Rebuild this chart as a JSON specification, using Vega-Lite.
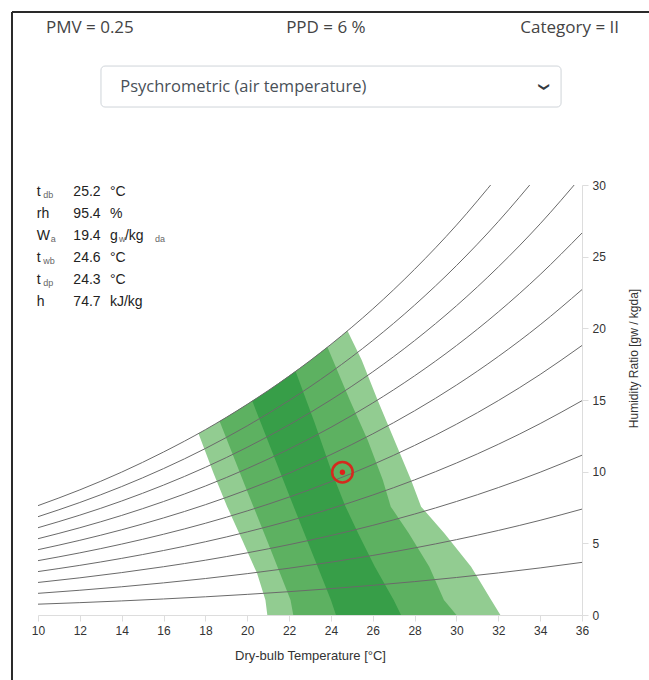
{
  "$schema": "https://vega.github.io/schema/vega-lite/v6.json",
  "width": 544,
  "height": 430,
  "autosize": {"type": "none"},
  "padding": {"left": 38, "top": 185, "right": 67, "bottom": 65},
  "background": "white",
  "config": {"view": {"stroke": null}, "font": "Liberation Sans"},
  "datasets": {
    "zone": [
      {"zone": "III", "i": 0, "T": 20.96, "W": 0},
      {"zone": "III", "i": 1, "T": 20.87, "W": 1.05},
      {"zone": "III", "i": 2, "T": 20.47, "W": 2.91},
      {"zone": "III", "i": 3, "T": 19.76, "W": 5.23},
      {"zone": "III", "i": 4, "T": 19.04, "W": 7.56},
      {"zone": "III", "i": 5, "T": 18.39, "W": 9.89},
      {"zone": "III", "i": 6, "T": 17.67, "W": 12.67},
      {"zone": "III", "i": 7, "T": 18, "W": 12.93},
      {"zone": "III", "i": 8, "T": 19, "W": 13.79},
      {"zone": "III", "i": 9, "T": 20, "W": 14.7},
      {"zone": "III", "i": 10, "T": 21, "W": 15.65},
      {"zone": "III", "i": 11, "T": 22, "W": 16.67},
      {"zone": "III", "i": 12, "T": 23, "W": 17.74},
      {"zone": "III", "i": 13, "T": 24, "W": 18.88},
      {"zone": "III", "i": 14, "T": 24.79, "W": 19.83},
      {"zone": "III", "i": 15, "T": 25.47, "W": 17.79},
      {"zone": "III", "i": 16, "T": 26.23, "W": 15.0},
      {"zone": "III", "i": 17, "T": 27.03, "W": 12.21},
      {"zone": "III", "i": 18, "T": 27.83, "W": 9.42},
      {"zone": "III", "i": 19, "T": 28.31, "W": 7.56},
      {"zone": "III", "i": 20, "T": 29.42, "W": 5.7},
      {"zone": "III", "i": 21, "T": 30.7, "W": 3.37},
      {"zone": "III", "i": 22, "T": 31.66, "W": 1.05},
      {"zone": "III", "i": 23, "T": 32.1, "W": 0},
      {"zone": "II", "i": 0, "T": 22.2, "W": 0},
      {"zone": "II", "i": 1, "T": 22.07, "W": 1.05},
      {"zone": "II", "i": 2, "T": 21.0, "W": 5.0},
      {"zone": "II", "i": 3, "T": 19.9, "W": 9.0},
      {"zone": "II", "i": 4, "T": 18.68, "W": 13.51},
      {"zone": "II", "i": 5, "T": 19, "W": 13.79},
      {"zone": "II", "i": 6, "T": 20, "W": 14.7},
      {"zone": "II", "i": 7, "T": 21, "W": 15.65},
      {"zone": "II", "i": 8, "T": 22, "W": 16.67},
      {"zone": "II", "i": 9, "T": 23, "W": 17.74},
      {"zone": "II", "i": 10, "T": 23.83, "W": 18.69},
      {"zone": "II", "i": 11, "T": 24.9, "W": 15.0},
      {"zone": "II", "i": 12, "T": 25.76, "W": 12.2},
      {"zone": "II", "i": 13, "T": 26.48, "W": 9.42},
      {"zone": "II", "i": 14, "T": 26.86, "W": 7.56},
      {"zone": "II", "i": 15, "T": 27.72, "W": 5.7},
      {"zone": "II", "i": 16, "T": 28.7, "W": 3.37},
      {"zone": "II", "i": 17, "T": 29.4, "W": 1.05},
      {"zone": "II", "i": 18, "T": 30.0, "W": 0},
      {"zone": "I", "i": 0, "T": 24.24, "W": 0},
      {"zone": "I", "i": 1, "T": 24.0, "W": 1.05},
      {"zone": "I", "i": 2, "T": 22.1, "W": 8.0},
      {"zone": "I", "i": 3, "T": 20.24, "W": 14.93},
      {"zone": "I", "i": 4, "T": 21, "W": 15.65},
      {"zone": "I", "i": 5, "T": 22, "W": 16.67},
      {"zone": "I", "i": 6, "T": 22.31, "W": 17.0},
      {"zone": "I", "i": 7, "T": 23.2, "W": 13.5},
      {"zone": "I", "i": 8, "T": 24.04, "W": 9.98},
      {"zone": "I", "i": 9, "T": 24.7, "W": 7.56},
      {"zone": "I", "i": 10, "T": 25.3, "W": 5.7},
      {"zone": "I", "i": 11, "T": 26.1, "W": 3.37},
      {"zone": "I", "i": 12, "T": 27.0, "W": 1.05},
      {"zone": "I", "i": 13, "T": 27.35, "W": 0}
    ],
    "rh": [
      {"rh": 10, "T": 10, "W": 0.755}, {"rh": 10, "T": 12, "W": 0.862}, {"rh": 10, "T": 14, "W": 0.983}, {"rh": 10, "T": 16, "W": 1.119}, {"rh": 10, "T": 18, "W": 1.27}, {"rh": 10, "T": 20, "W": 1.439}, {"rh": 10, "T": 22, "W": 1.628}, {"rh": 10, "T": 24, "W": 1.838}, {"rh": 10, "T": 26, "W": 2.071}, {"rh": 10, "T": 28, "W": 2.33}, {"rh": 10, "T": 30, "W": 2.617}, {"rh": 10, "T": 32, "W": 2.935}, {"rh": 10, "T": 34, "W": 3.285}, {"rh": 10, "T": 36, "W": 3.672},
      {"rh": 20, "T": 10, "W": 1.511}, {"rh": 20, "T": 12, "W": 1.727}, {"rh": 20, "T": 14, "W": 1.969}, {"rh": 20, "T": 16, "W": 2.241}, {"rh": 20, "T": 18, "W": 2.544}, {"rh": 20, "T": 20, "W": 2.885}, {"rh": 20, "T": 22, "W": 3.264}, {"rh": 20, "T": 24, "W": 3.686}, {"rh": 20, "T": 26, "W": 4.156}, {"rh": 20, "T": 28, "W": 4.678}, {"rh": 20, "T": 30, "W": 5.257}, {"rh": 20, "T": 32, "W": 5.898}, {"rh": 20, "T": 34, "W": 6.606}, {"rh": 20, "T": 36, "W": 7.388},
      {"rh": 30, "T": 10, "W": 2.27}, {"rh": 30, "T": 12, "W": 2.594}, {"rh": 30, "T": 14, "W": 2.959}, {"rh": 30, "T": 16, "W": 3.368}, {"rh": 30, "T": 18, "W": 3.824}, {"rh": 30, "T": 20, "W": 4.337}, {"rh": 30, "T": 22, "W": 4.909}, {"rh": 30, "T": 24, "W": 5.546}, {"rh": 30, "T": 26, "W": 6.255}, {"rh": 30, "T": 28, "W": 7.044}, {"rh": 30, "T": 30, "W": 7.919}, {"rh": 30, "T": 32, "W": 8.889}, {"rh": 30, "T": 34, "W": 9.961}, {"rh": 30, "T": 36, "W": 11.148},
      {"rh": 40, "T": 10, "W": 3.03}, {"rh": 40, "T": 12, "W": 3.464}, {"rh": 40, "T": 14, "W": 3.951}, {"rh": 40, "T": 16, "W": 4.499}, {"rh": 40, "T": 18, "W": 5.11}, {"rh": 40, "T": 20, "W": 5.797}, {"rh": 40, "T": 22, "W": 6.563}, {"rh": 40, "T": 24, "W": 7.417}, {"rh": 40, "T": 26, "W": 8.369}, {"rh": 40, "T": 28, "W": 9.427}, {"rh": 40, "T": 30, "W": 10.603}, {"rh": 40, "T": 32, "W": 11.909}, {"rh": 40, "T": 34, "W": 13.353}, {"rh": 40, "T": 36, "W": 14.953},
      {"rh": 50, "T": 10, "W": 3.792}, {"rh": 50, "T": 12, "W": 4.336}, {"rh": 50, "T": 14, "W": 4.947}, {"rh": 50, "T": 16, "W": 5.634}, {"rh": 50, "T": 18, "W": 6.4}, {"rh": 50, "T": 20, "W": 7.263}, {"rh": 50, "T": 22, "W": 8.225}, {"rh": 50, "T": 24, "W": 9.299}, {"rh": 50, "T": 26, "W": 10.496}, {"rh": 50, "T": 28, "W": 11.829}, {"rh": 50, "T": 30, "W": 13.311}, {"rh": 50, "T": 32, "W": 14.958}, {"rh": 50, "T": 34, "W": 16.781}, {"rh": 50, "T": 36, "W": 18.804},
      {"rh": 60, "T": 10, "W": 4.556}, {"rh": 60, "T": 12, "W": 5.211}, {"rh": 60, "T": 14, "W": 5.946}, {"rh": 60, "T": 16, "W": 6.772}, {"rh": 60, "T": 18, "W": 7.696}, {"rh": 60, "T": 20, "W": 8.736}, {"rh": 60, "T": 22, "W": 9.897}, {"rh": 60, "T": 24, "W": 11.192}, {"rh": 60, "T": 26, "W": 12.638}, {"rh": 60, "T": 28, "W": 14.248}, {"rh": 60, "T": 30, "W": 16.042}, {"rh": 60, "T": 32, "W": 18.036}, {"rh": 60, "T": 34, "W": 20.247}, {"rh": 60, "T": 36, "W": 22.703},
      {"rh": 70, "T": 10, "W": 5.322}, {"rh": 70, "T": 12, "W": 6.088}, {"rh": 70, "T": 14, "W": 6.947}, {"rh": 70, "T": 16, "W": 7.916}, {"rh": 70, "T": 18, "W": 8.997}, {"rh": 70, "T": 20, "W": 10.216}, {"rh": 70, "T": 22, "W": 11.577}, {"rh": 70, "T": 24, "W": 13.096}, {"rh": 70, "T": 26, "W": 14.794}, {"rh": 70, "T": 28, "W": 16.687}, {"rh": 70, "T": 30, "W": 18.796}, {"rh": 70, "T": 32, "W": 21.144}, {"rh": 70, "T": 34, "W": 23.75}, {"rh": 70, "T": 36, "W": 26.649},
      {"rh": 80, "T": 10, "W": 6.089}, {"rh": 80, "T": 12, "W": 6.967}, {"rh": 80, "T": 14, "W": 7.953}, {"rh": 80, "T": 16, "W": 9.063}, {"rh": 80, "T": 18, "W": 10.304}, {"rh": 80, "T": 20, "W": 11.702}, {"rh": 80, "T": 22, "W": 13.266}, {"rh": 80, "T": 24, "W": 15.012}, {"rh": 80, "T": 26, "W": 16.965}, {"rh": 80, "T": 28, "W": 19.145}, {"rh": 80, "T": 30, "W": 21.574}, {"rh": 80, "T": 32, "W": 24.283}, {"rh": 80, "T": 34, "W": 27.292}, {"rh": 80, "T": 36, "W": 30.643},
      {"rh": 90, "T": 10, "W": 6.859}, {"rh": 90, "T": 12, "W": 7.849}, {"rh": 90, "T": 14, "W": 8.961}, {"rh": 90, "T": 16, "W": 10.214}, {"rh": 90, "T": 18, "W": 11.616}, {"rh": 90, "T": 20, "W": 13.196}, {"rh": 90, "T": 22, "W": 14.964}, {"rh": 90, "T": 24, "W": 16.94}, {"rh": 90, "T": 26, "W": 19.151}, {"rh": 90, "T": 28, "W": 21.621}, {"rh": 90, "T": 30, "W": 24.377}, {"rh": 90, "T": 32, "W": 27.452}, {"rh": 90, "T": 34, "W": 30.873},
      {"rh": 100, "T": 10, "W": 7.63}, {"rh": 100, "T": 12, "W": 8.73}, {"rh": 100, "T": 14, "W": 9.97}, {"rh": 100, "T": 16, "W": 11.37}, {"rh": 100, "T": 18, "W": 12.93}, {"rh": 100, "T": 20, "W": 14.7}, {"rh": 100, "T": 22, "W": 16.67}, {"rh": 100, "T": 24, "W": 18.88}, {"rh": 100, "T": 26, "W": 21.35}, {"rh": 100, "T": 28, "W": 24.12}, {"rh": 100, "T": 30, "W": 27.2}, {"rh": 100, "T": 32, "W": 30.65}
    ],
    "point": [{"T": 24.55, "W": 9.96}],
    "header": [{"label": "PMV = 0.25", "slot": "left"}, {"label": "PPD = 6 %", "slot": "center"}, {"label": "Category = II", "slot": "right"}],
    "menu": [{"option": "Psychrometric (air temperature)"}],
    "info": [
      {"row": 1, "sym": "t", "sub": "db", "val": "25.2", "unit": "°C", "u2": "", "u3": "", "u4": ""},
      {"row": 2, "sym": "rh", "sub": "", "val": "95.4", "unit": "%", "u2": "", "u3": "", "u4": ""},
      {"row": 3, "sym": "W", "sub": "a", "val": "19.4", "unit": "g", "u2": "w", "u3": "/kg", "u4": "da"},
      {"row": 4, "sym": "t", "sub": "wb", "val": "24.6", "unit": "°C", "u2": "", "u3": "", "u4": ""},
      {"row": 5, "sym": "t", "sub": "dp", "val": "24.3", "unit": "°C", "u2": "", "u3": "", "u4": ""},
      {"row": 6, "sym": "h", "sub": "", "val": "74.7", "unit": "kJ/kg", "u2": "", "u3": "", "u4": ""}
    ]
  },
  "layer": [
    {
      "layer": [
        {
          "data": {"name": "zone"},
          "transform": [{"filter": "datum.zone === 'III'"}],
          "mark": {"type": "line", "fill": "#92cc91", "strokeWidth": 0},
          "encoding": {
            "x": {"field": "T", "type": "quantitative", "scale": {"domain": [10, 36], "nice": false, "zero": false},
              "axis": {"title": "Dry-bulb Temperature [°C]", "values": [10, 12, 14, 16, 18, 20, 22, 24, 26, 28, 30, 32, 34, 36], "grid": false,
                "domainColor": "#dddddd", "tickColor": "#dddddd", "tickSize": 6, "labelColor": "#333333", "labelFontSize": 12, "labelPadding": 4,
                "labelFlush": false, "titleColor": "#333333", "titleFontSize": 13, "titleFontWeight": "normal", "titlePadding": 13}},
            "y": {"field": "W", "type": "quantitative", "scale": {"domain": [0, 30], "nice": false, "zero": false},
              "axis": {"orient": "right", "title": "Humidity Ratio [gw / kgda]", "values": [0, 5, 10, 15, 20, 25, 30], "grid": false,
                "domainColor": "#dddddd", "tickColor": "#dddddd", "tickSize": 6, "labelColor": "#333333", "labelFontSize": 12, "labelPadding": 4,
                "labelFlush": false, "titleColor": "#333333", "titleFontSize": 12, "titleFontWeight": "normal", "titleAngle": 270, "titlePadding": 28,
                "titleY": 173, "titleAlign": "center", "titleBaseline": "middle"}},
            "order": {"field": "i", "type": "quantitative"}
          }
        },
        {
          "data": {"name": "zone"},
          "transform": [{"filter": "datum.zone === 'II'"}],
          "mark": {"type": "line", "fill": "#5db161", "strokeWidth": 0},
          "encoding": {
            "x": {"field": "T", "type": "quantitative"},
            "y": {"field": "W", "type": "quantitative"},
            "order": {"field": "i", "type": "quantitative"}
          }
        },
        {
          "data": {"name": "zone"},
          "transform": [{"filter": "datum.zone === 'I'"}],
          "mark": {"type": "line", "fill": "#379e48", "strokeWidth": 0},
          "encoding": {
            "x": {"field": "T", "type": "quantitative"},
            "y": {"field": "W", "type": "quantitative"},
            "order": {"field": "i", "type": "quantitative"}
          }
        },
        {
          "data": {"name": "rh"},
          "mark": {"type": "line", "clip": true, "interpolate": "monotone", "color": "#6a6a6a", "strokeWidth": 1},
          "encoding": {
            "x": {"field": "T", "type": "quantitative"},
            "y": {"field": "W", "type": "quantitative"},
            "detail": {"field": "rh", "type": "nominal"}
          }
        },
        {
          "data": {"name": "point"},
          "mark": {"type": "point", "shape": "circle", "filled": false, "size": 420, "stroke": "#d42a1e", "strokeWidth": 2.5, "opacity": 1},
          "encoding": {
            "x": {"field": "T", "type": "quantitative"},
            "y": {"field": "W", "type": "quantitative"}
          }
        },
        {
          "data": {"name": "point"},
          "mark": {"type": "circle", "size": 28, "color": "#e0201a", "opacity": 1},
          "encoding": {
            "x": {"field": "T", "type": "quantitative"},
            "y": {"field": "W", "type": "quantitative"}
          }
        },
        {
          "data": {"values": [{"edge": "left"}]},
          "mark": {"type": "rule", "color": "#2a2a2a", "strokeWidth": 2},
          "encoding": {
            "x": {"datum": 8.757, "type": "quantitative"},
            "y": {"datum": 42.07, "type": "quantitative"},
            "y2": {"datum": -8}
          }
        },
        {
          "data": {"values": [{"edge": "top"}]},
          "mark": {"type": "rule", "color": "#2a2a2a", "strokeWidth": 2},
          "encoding": {
            "x": {"datum": 8.757, "type": "quantitative"},
            "x2": {"datum": 41},
            "y": {"datum": 42.07, "type": "quantitative"}
          }
        },
        {
          "data": {"name": "header"},
          "transform": [{"filter": "datum.slot === 'left'"}],
          "mark": {"type": "text", "align": "left", "baseline": "middle", "font": "Open Sans", "fontSize": 17, "color": "#444444"},
          "encoding": {
            "x": {"datum": 10.38, "type": "quantitative"},
            "y": {"datum": 40.95, "type": "quantitative"},
            "text": {"field": "label"}
          }
        },
        {
          "data": {"name": "header"},
          "transform": [{"filter": "datum.slot === 'center'"}],
          "mark": {"type": "text", "align": "center", "baseline": "middle", "font": "Open Sans", "fontSize": 17, "color": "#444444"},
          "encoding": {
            "x": {"datum": 23.76, "type": "quantitative"},
            "y": {"datum": 40.95, "type": "quantitative"},
            "text": {"field": "label"}
          }
        },
        {
          "data": {"name": "header"},
          "transform": [{"filter": "datum.slot === 'right'"}],
          "mark": {"type": "text", "align": "right", "baseline": "middle", "font": "Open Sans", "fontSize": 17, "color": "#444444"},
          "encoding": {
            "x": {"datum": 37.77, "type": "quantitative"},
            "y": {"datum": 40.95, "type": "quantitative"},
            "text": {"field": "label"}
          }
        },
        {
          "data": {"name": "menu"},
          "mark": {"type": "rect", "fill": "white", "stroke": "#cfd4d9", "strokeWidth": 1, "cornerRadius": 4},
          "encoding": {
            "x": {"datum": 13.01, "type": "quantitative"},
            "x2": {"datum": 35.0},
            "y": {"datum": 38.3, "type": "quantitative"},
            "y2": {"datum": 35.44}
          }
        },
        {
          "data": {"name": "menu"},
          "mark": {"type": "text", "align": "left", "baseline": "middle", "font": "Open Sans", "fontSize": 16.5, "color": "#495057"},
          "encoding": {
            "x": {"datum": 13.93, "type": "quantitative"},
            "y": {"datum": 36.84, "type": "quantitative"},
            "text": {"field": "option"}
          }
        },
        {
          "data": {"name": "menu"},
          "mark": {"type": "text", "align": "center", "baseline": "middle", "font": "DejaVu Sans", "fontSize": 11, "fontWeight": "bold", "angle": 90, "color": "#343a40", "text": "❯"},
          "encoding": {
            "x": {"datum": 34.2, "type": "quantitative"},
            "y": {"datum": 36.84, "type": "quantitative"}
          }
        }
      ]
    },
    {
      "data": {"name": "info"},
      "encoding": {
        "y": {"field": "row", "type": "quantitative", "scale": {"domain": [0.682, 20.227], "reverse": true, "nice": false, "zero": false}, "axis": null}
      },
      "layer": [
        {
          "mark": {"type": "text", "align": "left", "baseline": "middle", "font": "Liberation Sans", "fontSize": 14, "color": "#222222"},
          "encoding": {"x": {"datum": 9.94, "type": "quantitative"}, "text": {"field": "sym"}}
        },
        {
          "transform": [{"filter": "datum.sym === 't'"}],
          "mark": {"type": "text", "align": "left", "baseline": "middle", "font": "Liberation Sans", "fontSize": 9, "dx": 6.5, "dy": 3, "color": "#666666"},
          "encoding": {"x": {"datum": 9.94, "type": "quantitative"}, "text": {"field": "sub"}}
        },
        {
          "transform": [{"filter": "datum.sym === 'W'"}],
          "mark": {"type": "text", "align": "left", "baseline": "middle", "font": "Liberation Sans", "fontSize": 9, "dx": 14, "dy": 3, "color": "#666666"},
          "encoding": {"x": {"datum": 9.94, "type": "quantitative"}, "text": {"field": "sub"}}
        },
        {
          "mark": {"type": "text", "align": "left", "baseline": "middle", "font": "Liberation Sans", "fontSize": 14, "color": "#222222"},
          "encoding": {"x": {"datum": 11.69, "type": "quantitative"}, "text": {"field": "val"}}
        },
        {
          "mark": {"type": "text", "align": "left", "baseline": "middle", "font": "Liberation Sans", "fontSize": 14, "color": "#222222"},
          "encoding": {"x": {"datum": 13.44, "type": "quantitative"}, "text": {"field": "unit"}}
        },
        {
          "transform": [{"filter": "datum.row === 3"}],
          "mark": {"type": "text", "align": "left", "baseline": "middle", "font": "Liberation Sans", "fontSize": 9, "dx": 9, "dy": 3, "color": "#666666"},
          "encoding": {"x": {"datum": 13.44, "type": "quantitative"}, "text": {"field": "u2"}}
        },
        {
          "transform": [{"filter": "datum.row === 3"}],
          "mark": {"type": "text", "align": "left", "baseline": "middle", "font": "Liberation Sans", "fontSize": 14, "color": "#222222", "dx": 15},
          "encoding": {"x": {"datum": 13.44, "type": "quantitative"}, "text": {"field": "u3"}}
        },
        {
          "transform": [{"filter": "datum.row === 3"}],
          "mark": {"type": "text", "align": "left", "baseline": "middle", "font": "Liberation Sans", "fontSize": 9, "dx": 45, "dy": 3, "color": "#666666"},
          "encoding": {"x": {"datum": 13.44, "type": "quantitative"}, "text": {"field": "u4"}}
        }
      ]
    }
  ],
  "resolve": {"scale": {"y": "independent"}}
}
